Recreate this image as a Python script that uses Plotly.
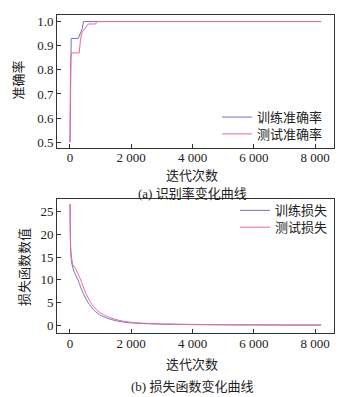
import plotly.graph_objects as go

# ---------------- data ----------------
acc_train_x = [0, 15, 40, 270, 320, 360, 400, 440, 8200]
acc_train_y = [0.5, 0.86, 0.93, 0.93, 0.945, 0.96, 0.97, 1.0, 1.0]
acc_test_x = [0, 20, 50, 300, 340, 380, 420, 480, 550, 600, 840, 870, 8200]
acc_test_y = [0.5, 0.85, 0.87, 0.87, 0.92, 0.95, 0.96, 0.97, 0.98, 0.99, 0.99, 1.0, 1.0]

loss_train_x = [0, 10, 20, 50, 100, 200, 260, 400, 590, 800, 1000, 1200, 1500, 1860, 2500, 3000, 4000, 5000, 6000, 7000, 8200]
loss_train_y = [26.7, 20, 16.5, 14, 12.5, 10.8, 10, 7.5, 5, 3.2, 2.2, 1.6, 1.0, 0.6, 0.35, 0.25, 0.15, 0.1, 0.08, 0.06, 0.05]
loss_test_x = [0, 10, 20, 50, 100, 185, 350, 500, 675, 900, 1100, 1300, 1600, 2000, 2500, 3000, 4000, 5000, 6000, 7000, 8200]
loss_test_y = [26.7, 21, 17.5, 15, 13.3, 12.4, 10, 7.3, 5, 3.2, 2.3, 1.7, 1.1, 0.65, 0.42, 0.3, 0.2, 0.14, 0.1, 0.08, 0.07]

x_ticks = [0, 2000, 4000, 6000, 8000]
acc_ticks = [0.5, 0.6, 0.7, 0.8, 0.9, 1.0]
loss_ticks = [0, 5, 10, 15, 20, 25]

names_acc = ["训练准确率", "测试准确率"]
names_loss = ["训练损失", "测试损失"]

BLUE = "#7070d6"
PINK = "#f0688e"
FONT = '"Liberation Serif", "Noto Sans CJK SC", serif'
W, H = 356, 397
X_RANGE = [-424, 8620]


def px_y(p):
    return 1 - p / H


def px_x(p):
    return p / W


fig = go.Figure()
fig.add_trace(go.Scatter(x=acc_train_x, y=acc_train_y, mode="lines", name=names_acc[0],
                         line=dict(color=BLUE, width=1), xaxis="x", yaxis="y", legend="legend"))
fig.add_trace(go.Scatter(x=acc_test_x, y=acc_test_y, mode="lines", name=names_acc[1],
                         line=dict(color=PINK, width=1), xaxis="x", yaxis="y", legend="legend2"))
fig.add_trace(go.Scatter(x=loss_train_x, y=loss_train_y, mode="lines", name=names_loss[0],
                         line=dict(color=BLUE, width=1, shape="spline", smoothing=0.6),
                         xaxis="x2", yaxis="y2", legend="legend3"))
fig.add_trace(go.Scatter(x=loss_test_x, y=loss_test_y, mode="lines", name=names_loss[1],
                         line=dict(color=PINK, width=1, shape="spline", smoothing=0.6),
                         xaxis="x2", yaxis="y2", legend="legend4"))
# empty traces that bind the tick-label axes
fig.add_trace(go.Scatter(x=[], y=[], xaxis="x3", yaxis="y", showlegend=False, hoverinfo="skip"))
fig.add_trace(go.Scatter(x=[], y=[], xaxis="x4", yaxis="y2", showlegend=False, hoverinfo="skip"))

tickfont = dict(family=FONT, size=13, color="#222")
axis_common = dict(showline=True, mirror=True, linecolor="#333333", linewidth=1,
                   showgrid=False, zeroline=False, tickfont=tickfont,
                   tickcolor="#333333", ticks="inside", ticklen=4)
label_axis = dict(showline=False, showgrid=False, zeroline=False, ticks="",
                  tickfont=tickfont, tickvals=x_ticks, tickformat=",d",
                  range=X_RANGE, anchor="free", side="bottom")


def leg(xp, yp):
    return dict(x=px_x(xp), y=px_y(yp), xanchor="left", yanchor="middle",
                bgcolor="rgba(0,0,0,0)", font=dict(family=FONT, size=13, color="#222"),
                itemwidth=30, borderwidth=0)


fig.update_layout(
    width=W, height=H, autosize=False,
    margin=dict(l=0, r=0, t=0, b=0),
    paper_bgcolor="white", plot_bgcolor="white",
    separators=". ",
    font=dict(family=FONT, size=13, color="#222"),
    xaxis=dict(domain=[px_x(57), px_x(334)], range=X_RANGE, tickvals=x_ticks,
               showticklabels=False, anchor="y", **axis_common),
    yaxis=dict(domain=[px_y(148), px_y(14)], range=[0.4765, 1.0276], tickvals=acc_ticks,
               tickformat=".1f", anchor="x", **axis_common),
    xaxis2=dict(domain=[px_x(57), px_x(334)], range=X_RANGE, tickvals=x_ticks,
                showticklabels=False, anchor="y2", **axis_common),
    yaxis2=dict(domain=[px_y(335), px_y(200)], range=[-1.8, 27.7], tickvals=loss_ticks,
                anchor="x2", **axis_common),
    xaxis3=dict(overlaying="x", position=px_y(148), **label_axis),
    xaxis4=dict(overlaying="x2", position=px_y(336), **label_axis),
    legend=leg(217, 117),
    legend2=leg(217, 134),
    legend3=leg(235, 211),
    legend4=leg(235, 228),
    showlegend=True,
)

ann = [
    dict(text="迭代次数", x=px_x(192), y=px_y(176)),
    dict(text="(a) 识别率变化曲线", x=px_x(192), y=px_y(194)),
    dict(text="迭代次数", x=px_x(192), y=px_y(366)),
    dict(text="(b) 损失函数变化曲线", x=px_x(192), y=px_y(388)),
]
for a in ann:
    fig.add_annotation(text=a["text"], x=a["x"], y=a["y"], xref="paper", yref="paper",
                       xanchor="center", yanchor="middle", showarrow=False,
                       font=dict(family=FONT, size=13, color="#222"))
fig.add_annotation(text="准确率", x=px_x(18), y=px_y(80), xref="paper", yref="paper",
                   textangle=-90, xanchor="center", yanchor="middle", showarrow=False,
                   font=dict(family=FONT, size=13, color="#222"))
fig.add_annotation(text="损失函数数值", x=px_x(25), y=px_y(268), xref="paper", yref="paper",
                   textangle=-90, xanchor="center", yanchor="middle", showarrow=False,
                   font=dict(family=FONT, size=13, color="#222"))

fig.write_html("out.html", config={"displayModeBar": False},
               post_script="document.body.style.margin='0';document.body.style.overflow='hidden';")
